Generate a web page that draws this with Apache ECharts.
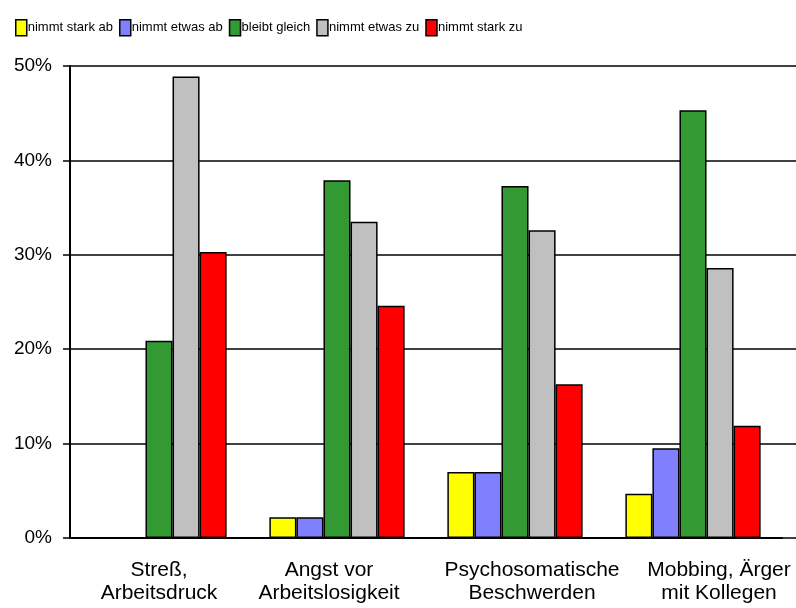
<!DOCTYPE html>
<html><head><meta charset="utf-8">
<script src="https://cdn.jsdelivr.net/npm/echarts@6/dist/echarts.min.js"></script>
<style>html,body{margin:0;padding:0;background:#fff}#c{width:796px;height:608px}</style>
</head><body><div id="c"></div>
<script>
const categories = ['Streß,\nArbeitsdruck', 'Angst vor\nArbeitslosigkeit', 'Psychosomatische\nBeschwerden', 'Mobbing, Ärger\nmit Kollegen'];
const seriesNames = ['nimmt stark ab', 'nimmt etwas ab', 'bleibt gleich', 'nimmt etwas zu', 'nimmt stark zu'];
const colors = ['#FFFF00', '#8080FF', '#339933', '#C0C0C0', '#FF0000'];
const starkAb = [0, 2.2, 7.0, 4.7];
const etwasAb = [0, 2.2, 7.0, 9.5];
const gleich = [20.9, 37.9, 37.3, 45.3];
const etwasZu = [48.9, 33.5, 32.6, 28.6];
const starkZu = [30.3, 24.6, 16.3, 11.9];
const values = [starkAb, etwasAb, gleich, etwasZu, starkZu];
const yTicks = [0, 10, 20, 30, 40, 50];

const chart = echarts.init(document.getElementById('c'));
const font = 'Arial, "Liberation Sans", sans-serif';
const labelShift = [0, -16, 34, 52];
const rich = {};
labelShift.forEach((s, i) => {
  rich['c' + i] = {fontSize: 21, color: '#000', lineHeight: 23, fontFamily: font,
    padding: s >= 0 ? [0, 0, 0, s] : [0, -s, 0, 0]};
});
chart.setOption({
  animation: false,
  textStyle: {fontFamily: font},
  legend: {
    left: 10, top: 14, itemWidth: 11, itemHeight: 16, itemGap: 6,
    icon: 'rect',
    textStyle: {fontSize: 13, color: '#000', fontFamily: font, padding: [0, 0, 0, -4]},
    itemStyle: {borderColor: '#000', borderWidth: 1.5},
    data: seriesNames
  },
  grid: [
    {left: 70, right: 14, top: 66, bottom: 70},
    {left: 70, right: 0, top: 66, bottom: 70}
  ],
  xAxis: [{
    type: 'category', gridIndex: 0, data: categories,
    axisLine: {lineStyle: {color: '#000', width: 2}},
    axisTick: {show: false},
    axisLabel: {interval: 0, margin: 21,
      formatter: (v, i) => v.split('\n').map(l => '{c' + i + '|' + l + '}').join('\n'),
      rich: rich}
  }, {
    type: 'category', gridIndex: 1, data: categories, show: false
  }],
  yAxis: [{
    type: 'value', gridIndex: 0, min: 0, max: 50, interval: 10,
    axisLine: {show: true, lineStyle: {color: '#000', width: 2}},
    axisTick: {show: true, inside: false, length: 7, lineStyle: {color: '#000', width: 1.5}},
    splitLine: {show: false},
    axisLabel: {fontSize: 19, color: '#000', margin: 18,
      formatter: v => yTicks.includes(v) ? v + '%' : ''}
  }, {
    type: 'value', gridIndex: 1, min: 0, max: 50, interval: 10,
    axisLine: {show: false}, axisTick: {show: false}, axisLabel: {show: false},
    splitLine: {show: true, lineStyle: {color: '#000', width: 1.5}}
  }],
  series: seriesNames.map((n, i) => ({
    name: n, type: 'bar', xAxisIndex: 0, yAxisIndex: 0,
    data: values[i],
    barGap: '0%', barCategoryGap: '24%',
    itemStyle: {color: colors[i], borderColor: '#000', borderWidth: 1.5}
  }))
});
</script></body></html>
